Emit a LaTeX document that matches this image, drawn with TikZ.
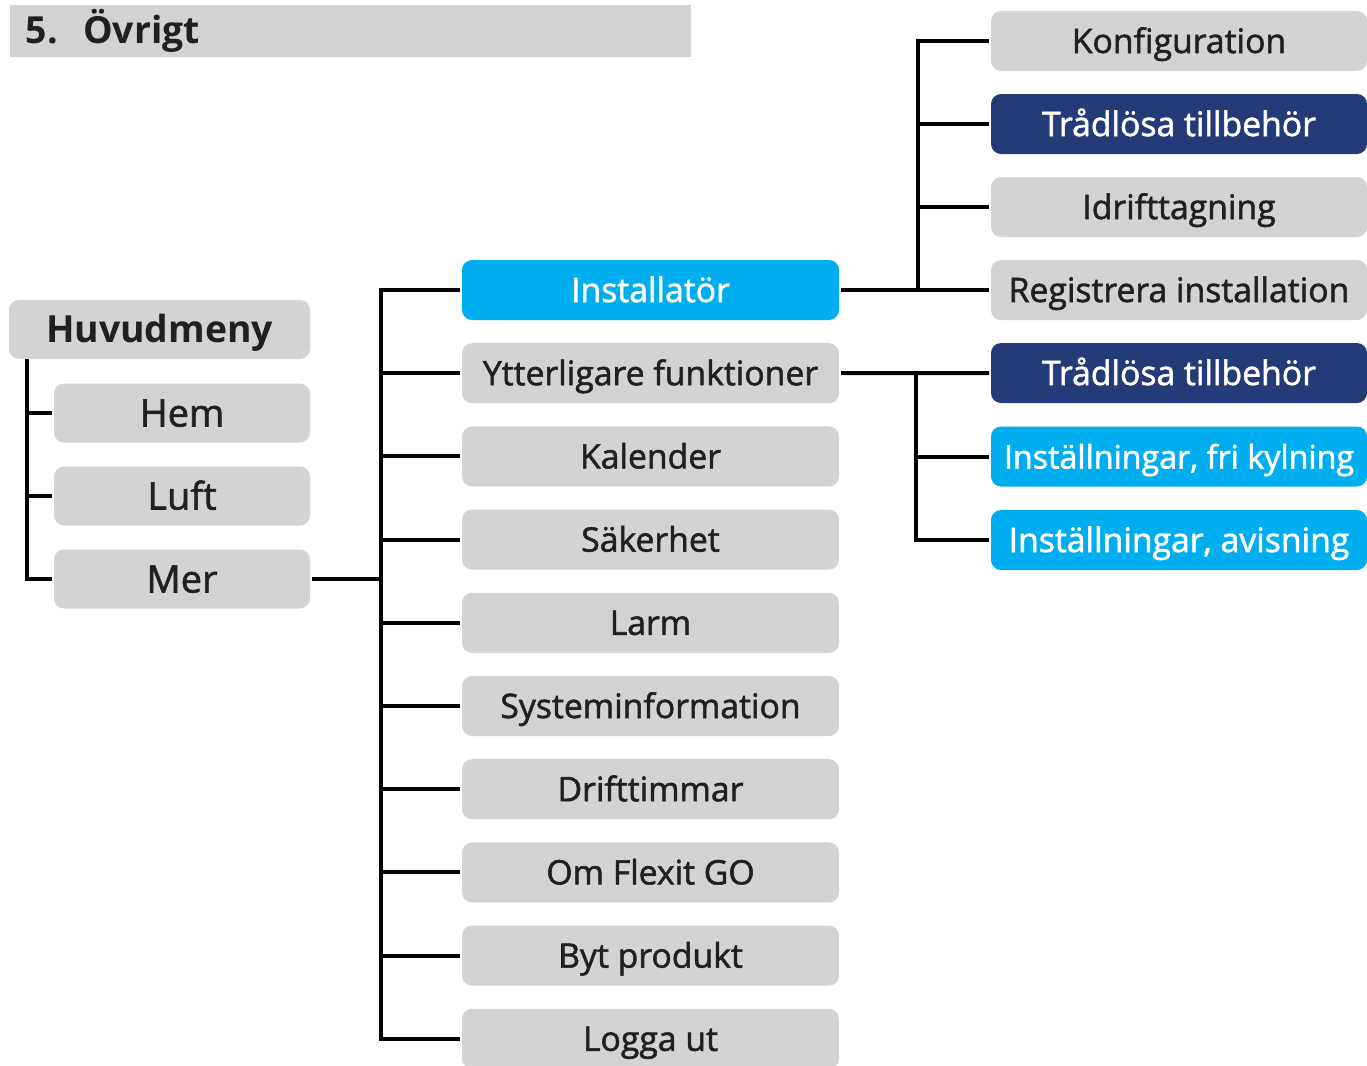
\documentclass[tikz,border=0pt]{standalone}
\usepackage{fontspec}
\setmainfont{Open Sans}
\newfontfamily\menufont{Open Sans}[FakeBold=1.6]
\definecolor{boxgray}{HTML}{D1D3D4}
\definecolor{navy}{HTML}{233B76}
\definecolor{skyblue}{HTML}{00AEEF}
\definecolor{ink}{HTML}{231F20}
\tikzset{
every picture/.style={
line width=3pt, x=0.75pt, y=-0.75pt
},
item/.style={fill=boxgray, text=ink, rounded corners=7.5pt, inner sep=0pt,
  minimum height=45pt, text height=18pt, text depth=0pt,
  font=\menufont\fontsize{25.3}{28}\selectfont},
hot/.style={item, fill=skyblue, text=white},
hottight/.style={hot, font=\menufont\fontsize{24.2}{28}\selectfont},
dark/.style={item, fill=navy, text=white},
leftcol/.style={minimum width=192pt, minimum height=44.25pt, text height=20.3pt,
  font=\menufont\fontsize{28.5}{32}\selectfont},
midcol/.style={minimum width=282.75pt},
rightcol/.style={minimum width=282pt}
}

\begin{document}
\begin{tikzpicture}
\useasboundingbox (0,0) rectangle (1367,1065);
\clip (0,0) rectangle (1367,1065);

% title bar
\node [fill=boxgray, text=ink, anchor=north west, minimum height=39pt, text width=486.75pt,
  inner xsep=12pt, inner ysep=0pt, align=left, font=\bfseries\fontsize{28}{32}\selectfont]
  (title) at (8,3) {5.\hspace{19pt}Övrigt};

% main menu
\node [item, minimum width=225.75pt, minimum height=44.25pt, text height=20pt,
  font=\bfseries\fontsize{28}{32}\selectfont]
  (huvud) at (159.5,329.5) {Huvudmeny};
\foreach \t [count=\i] in {Hem, Luft, Mer}{
  \node [item, leftcol] (h\i) at (182,{413+83*(\i-1)}) {\t};
}
\coordinate (htrunk) at (27,359);
\draw (htrunk) -- (h3.west -| htrunk) -- (h3.west);
\foreach \i in {1,2}
  \draw (h\i.west -| htrunk) -- (h\i.west);

% Mer
\foreach \t/\s [count=\i] in {Installatör/hot, Ytterligare funktioner/item, Kalender/item,
  Säkerhet/item, Larm/item, Systeminformation/item, Drifttimmar/item,
  Om Flexit GO/item, Byt produkt/item, Logga ut/item}{
  \node [\s, midcol] (m\i) at (650.5,{290+83.2*(\i-1)}) {\t};
}
\coordinate (mtrunk) at (381,290);
\draw (m1.west) -- (m1.west -| mtrunk) -- (m10.west -| mtrunk) -- (m10.west);
\foreach \i in {2,...,9}
  \draw (m\i.west -| mtrunk) -- (m\i.west);
\draw (h3.east) -- (h3.east -| mtrunk);

% Installatör
\foreach \t/\s [count=\i] in {Konfiguration/item, Trådlösa tillbehör/dark,
  Idrifttagning/item, Registrera installation/item}{
  \node [\s, rightcol] (i\i) at (1179,{41+83*(\i-1)}) {\t};
}
\coordinate (itrunk) at (918,41);
\draw (i1.west) -- (i1.west -| itrunk) -- (i4.west -| itrunk);
\foreach \i in {2,3}
  \draw (i\i.west -| itrunk) -- (i\i.west);
\draw (m1.east) -- (i4.west);

% Ytterligare funktioner
\foreach \t/\s [count=\i] in {Trådlösa tillbehör/dark, {Inställningar, fri kylning}/hottight,
  {Inställningar, avisning}/hot}{
  \node [\s, rightcol] (y\i) at (1179,{373+83.5*(\i-1)}) {\t};
}
\coordinate (ytrunk) at (916,373);
\draw (m2.east) -- (y1.west);
\draw (ytrunk) -- (y3.west -| ytrunk) -- (y3.west);
\draw (y2.west -| ytrunk) -- (y2.west);

\end{tikzpicture}
\end{document}
